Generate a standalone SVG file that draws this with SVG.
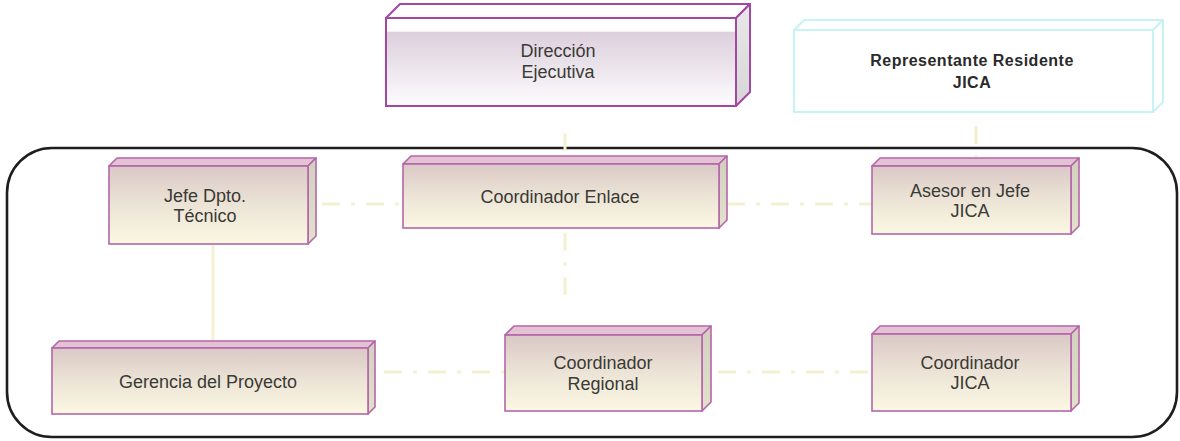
<svg xmlns="http://www.w3.org/2000/svg" width="1180" height="441" viewBox="0 0 1180 441">
<defs>
<linearGradient id="gFront" x1="0" y1="0" x2="0" y2="1">
<stop offset="0" stop-color="#dac8c6"/>
<stop offset="0.5" stop-color="#ece4d6"/>
<stop offset="1" stop-color="#fbf8e3"/>
</linearGradient>
<linearGradient id="gSide" x1="0" y1="0" x2="0" y2="1">
<stop offset="0" stop-color="#d2cfc0"/>
<stop offset="1" stop-color="#e2e2cc"/>
</linearGradient>
<linearGradient id="gDir" x1="0" y1="0" x2="0" y2="1">
<stop offset="0" stop-color="#ffffff"/>
<stop offset="0.15" stop-color="#ffffff"/>
<stop offset="0.16" stop-color="#dccfdc"/>
<stop offset="1" stop-color="#fdfcfd"/>
</linearGradient>
<linearGradient id="gDirSide" x1="0" y1="0" x2="0" y2="1">
<stop offset="0" stop-color="#e8e8e8"/>
<stop offset="1" stop-color="#d6d6d6"/>
</linearGradient>
</defs>
<style>
.front{fill:url(#gFront);stroke:#b566a9;stroke-width:1.6}
.top{fill:#e3c3d3;stroke:#b566a9;stroke-width:1.6;stroke-linejoin:round}
.side{fill:url(#gSide);stroke:#b566a9;stroke-width:1.6;stroke-linejoin:round}
.dfront{fill:url(#gDir);stroke:#a446a4;stroke-width:2}
.dtop{fill:#ffffff;stroke:#a446a4;stroke-width:2;stroke-linejoin:round}
.dside{fill:url(#gDirSide);stroke:#a446a4;stroke-width:2;stroke-linejoin:round}
.rface{fill:#ffffff;stroke:#c8f3f3;stroke-width:2;stroke-linejoin:round}
.lbl{font-family:"Liberation Sans",Arial,sans-serif;font-size:18px;fill:#3a3a36;text-anchor:middle}
.blbl{font-family:"Liberation Sans",Arial,sans-serif;font-size:16px;font-weight:bold;fill:#2a2a2a;text-anchor:middle;letter-spacing:0.5px}
.con{fill:none;stroke:#f4f0d0;stroke-width:3}
.dd{stroke-dasharray:18 11 4 11}
</style>
<rect id="frame" x="7" y="148" width="1170" height="289" rx="45" ry="45" fill="none" stroke="#1e1e1e" stroke-width="2.6"/>
<g id="connectors">
<line class="con dd" x1="565" y1="133" x2="565" y2="172"/>
<line class="con dd" x1="976" y1="126" x2="976" y2="170"/>
<line class="con dd" x1="322" y1="204" x2="403" y2="204"/>
<line class="con dd" x1="727" y1="204" x2="872" y2="204"/>
<line class="con dd" x1="565" y1="233" x2="565" y2="298"/>
<line class="con" x1="213" y1="244" x2="213" y2="341"/>
<line class="con dd" x1="384" y1="372" x2="505" y2="372"/>
<line class="con dd" x1="718" y1="372" x2="872" y2="372"/>
</g>
<g id="direccion">
<polygon class="dtop" points="386,18 400,4 750,4 736,18"/>
<polygon class="dside" points="736,18 750,4 750,92 736,106"/>
<rect class="dfront" x="386" y="18" width="350" height="88"/>
<text class="lbl" x="558" y="57">Dirección</text>
<text class="lbl" x="558" y="78">Ejecutiva</text>
</g>
<g id="representante">
<polygon class="rface" points="794,30 804,20 1163,20 1153,30"/>
<polygon class="rface" points="1153,30 1163,20 1163,102 1153,112"/>
<rect class="rface" x="794" y="30" width="359" height="82"/>
<text class="blbl" x="972" y="66">Representante Residente</text>
<text class="blbl" x="972" y="88">JICA</text>
</g>
<g id="jefe">
<polygon class="top" points="109,166 117,158 316,158 308,166"/>
<polygon class="side" points="308,166 316,158 316,236 308,244"/>
<rect class="front" x="109" y="166" width="199" height="78"/>
<text class="lbl" x="205" y="202">Jefe Dpto.</text>
<text class="lbl" x="205" y="222">Técnico</text>
</g>
<g id="enlace">
<polygon class="top" points="403,164 411,156 727,156 719,164"/>
<polygon class="side" points="719,164 727,156 727,220 719,228"/>
<rect class="front" x="403" y="164" width="316" height="64"/>
<text class="lbl" x="560" y="203">Coordinador Enlace</text>
</g>
<g id="asesor">
<polygon class="top" points="872,166 880,158 1079,158 1071,166"/>
<polygon class="side" points="1071,166 1079,158 1079,226 1071,234"/>
<rect class="front" x="872" y="166" width="199" height="68"/>
<text class="lbl" x="970" y="197">Asesor en Jefe</text>
<text class="lbl" x="970" y="217">JICA</text>
</g>
<g id="gerencia">
<polygon class="top" points="52,348 59,341 375,341 368,348"/>
<polygon class="side" points="368,348 375,341 375,407 368,414"/>
<rect class="front" x="52" y="348" width="316" height="66"/>
<text class="lbl" x="208" y="388">Gerencia del Proyecto</text>
</g>
<g id="regional">
<polygon class="top" points="505,335 514,326 711,326 702,335"/>
<polygon class="side" points="702,335 711,326 711,402 702,411"/>
<rect class="front" x="505" y="335" width="197" height="76"/>
<text class="lbl" x="603" y="369">Coordinador</text>
<text class="lbl" x="603" y="390">Regional</text>
</g>
<g id="coordjica">
<polygon class="top" points="872,334 880,326 1079,326 1071,334"/>
<polygon class="side" points="1071,334 1079,326 1079,403 1071,411"/>
<rect class="front" x="872" y="334" width="199" height="77"/>
<text class="lbl" x="970" y="369">Coordinador</text>
<text class="lbl" x="970" y="389">JICA</text>
</g>
</svg>
